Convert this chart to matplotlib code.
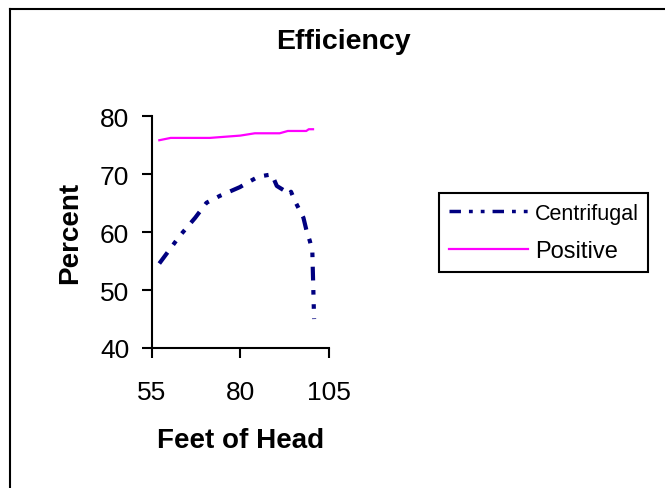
import matplotlib
matplotlib.use("Agg")
import matplotlib.pyplot as plt
from matplotlib.lines import Line2D



W,H=665,489

# centrifugal pump efficiency
cen_x=[57.2,63.0,67.3,70.5,74.3,79.9,82.7,85.1,87.9,88.9,90.3,94.0,94.3,95.4,97.8,98.7,99.6,100.3,100.8]
cen_y=[54.6,59.4,62.5,65.1,66.3,67.8,68.8,69.6,69.9,70.0,68.0,66.6,67.0,65.4,62.5,60.2,58.5,56.8,45.0]
# positive displacement pump efficiency
pos_x=[57.2,60.4,71.4,80.0,84.1,91.1,93.4,98.6,99.3,100.5]
pos_y=[75.9,76.3,76.3,76.7,77.1,77.1,77.5,77.5,77.8,77.8]

x_ticks=[55,80,105]
y_ticks=[40,50,60,70,80]



plt.rcParams["font.family"]=["Liberation Sans","DejaVu Sans"]
fig=plt.figure(figsize=(W/100,H/100),dpi=100)
ax=fig.add_axes([151.5/W,1-349/H,177.5/W,231.5/H])

ax.plot(cen_x,cen_y,color="#000080",linewidth=3,dashes=(3.3,2.3,1.1,2.3,1.1,2.3),label="Centrifugal",dash_capstyle="butt")
ax.plot(pos_x,pos_y,color="#ff00ff",linewidth=1.6,label="Positive")

ax.set_xlim(55,105)
ax.set_ylim(40,80)
ax.set_xticks(x_ticks)
ax.set_yticks(y_ticks)
for s in ("top","right"):
	ax.spines[s].set_visible(False)
for s in ("left","bottom"):
	ax.spines[s].set_linewidth(1.5)
ax.tick_params(axis="both",direction="out",length=7,width=1.5,labelsize=19)
ax.tick_params(axis="y",pad=9)
ax.tick_params(axis="x",pad=16)

ax.set_xlabel("Feet of Head",fontsize=20,fontweight="bold")
ax.xaxis.set_label_coords(0.5,(349-428)/231.5)
ax.set_ylabel("Percent",fontsize=20,fontweight="bold")
ax.yaxis.set_label_coords((83-151.5)/177.5,0.5)

fig.text(343/W,1-42/H,"Efficiency",fontsize=20.5,fontweight="bold",ha="center",va="center")

leg=fig.legend(loc="upper left",bbox_to_anchor=(439/W,1-194/H),borderaxespad=0,fontsize=15.5,
	handlelength=3.7,handletextpad=0.3,labelspacing=0.75,borderpad=0.45,fancybox=False,framealpha=1)
leg.get_frame().set_edgecolor("black")
leg.get_frame().set_linewidth(1.5)
leg.get_texts()[1].set_fontsize(17)
leg.get_lines()[0].set_linewidth(2.5)

# outer chart border (left and top visible)
fig.add_artist(Line2D([10/W,10/W],[0,1-10/H],color="black",linewidth=1.5,transform=fig.transFigure))
fig.add_artist(Line2D([10/W,1],[1-10/H,1-10/H],color="black",linewidth=1.5,transform=fig.transFigure))

fig.savefig("out.png",dpi=100)
